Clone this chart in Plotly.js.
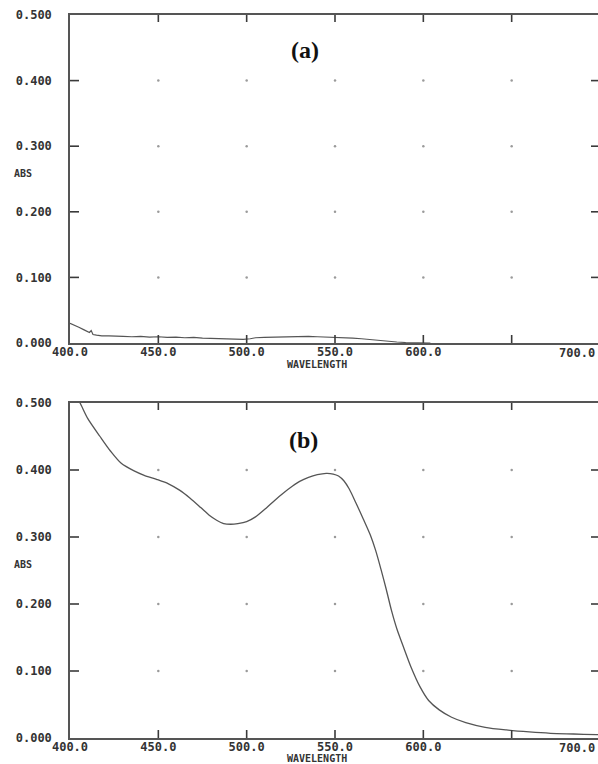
<!DOCTYPE html>
<html>
<head>
<meta charset="utf-8">
<script src="https://cdn.plot.ly/plotly-3.0.1.min.js"></script>
<style>
html, body { margin: 0; padding: 0; overflow: hidden; background: #fff; }
#chart { width: 604px; height: 764px; }
</style>
</head>
<body>
<div id="chart"></div>
<script>
// Panel (a) spectrum
const wlA = [400, 401, 403, 405, 408, 410, 411, 412, 413, 415, 418, 422, 426, 430, 435, 440, 445, 450, 455, 460, 465, 470, 475, 480, 485, 490, 495, 498, 502, 505, 510, 515, 520, 525, 530, 535, 540, 545, 550, 555, 560, 565, 570, 575, 580, 585, 590, 595, 600, 604];
const absA = [0.030, 0.029, 0.027, 0.024, 0.020, 0.018, 0.016, 0.019, 0.013, 0.012, 0.011, 0.011, 0.010, 0.010, 0.0095, 0.0100, 0.0090, 0.0095, 0.0085, 0.0090, 0.0080, 0.0085, 0.0075, 0.0070, 0.0075, 0.0065, 0.0060, 0.0055, 0.0065, 0.0080, 0.0085, 0.0090, 0.0095, 0.0100, 0.0095, 0.0100, 0.0095, 0.0090, 0.0095, 0.0080, 0.0075, 0.0065, 0.0050, 0.0035, 0.0025, 0.0015, 0.0008, 0.0003, 0.0001, 0.0];

// Panel (b) spectrum
const wlB = [403, 405.7, 410, 417, 423, 429, 436, 442, 449, 456, 462, 468, 474, 479, 483, 487, 491, 495, 500, 505, 511, 516, 521, 526, 530, 535, 540, 545, 549, 552, 555, 558, 562, 566, 570, 573, 576, 579, 582, 585, 589, 593, 598, 603, 609, 616, 624, 635, 647, 660, 672, 685, 698, 700];
const absB = [0.512, 0.500, 0.477, 0.450, 0.428, 0.410, 0.399, 0.392, 0.386, 0.379, 0.370, 0.358, 0.344, 0.332, 0.325, 0.320, 0.319, 0.320, 0.323, 0.330, 0.343, 0.355, 0.366, 0.376, 0.383, 0.389, 0.393, 0.395, 0.394, 0.391, 0.384, 0.372, 0.350, 0.327, 0.303, 0.280, 0.252, 0.222, 0.190, 0.163, 0.134, 0.106, 0.077, 0.056, 0.042, 0.031, 0.023, 0.016, 0.012, 0.009, 0.007, 0.006, 0.005, 0.005];

// Axis ticks
const xTickVals = [400, 450, 500, 550, 600, 650, 700];
const xTickText = ['400.0', '450.0', '500.0', '550.0', '600.0', '', ''];
const xLastLabel = '700.0';
const yTickVals = [0, 0.1, 0.2, 0.3, 0.4, 0.5];
const yTickText = ['0.000', '0.100', '0.200', '0.300', '0.400', '0.500'];
const panelLabels = ['(a)', '(b)'];
const yTitle = 'ABS';
const xTitle = 'WAVELENGTH';

// grid dots derived from interior ticks
const gx = [], gy = [];
xTickVals.slice(1, -1).forEach(function (x) {
  yTickVals.slice(1, -1).forEach(function (y) { gx.push(x); gy.push(y); });
});

const lineColor = '#555555';
const tickColor = '#3a3a3a';
const tickFont = { family: 'DejaVu Sans Mono', size: 12, color: '#333333', weight: 'bold' };

function xAxis(anchor) {
  return {
    anchor: anchor, range: [400, 700], tickmode: 'array', tickvals: xTickVals, ticktext: xTickText,
    ticks: '', showline: true, linecolor: lineColor, linewidth: 1.5, mirror: true,
    showgrid: false, zeroline: false, tickfont: tickFont, ticklabelstandoff: -3,
    fixedrange: true
  };
}
function yAxis(anchor, domain) {
  return {
    anchor: anchor, domain: domain, range: [0, 0.5], tickmode: 'array', tickvals: yTickVals, ticktext: yTickText,
    ticks: '', showline: true, linecolor: lineColor, linewidth: 1.5, mirror: true,
    showgrid: false, zeroline: false, tickfont: tickFont, ticklabelstandoff: 14, fixedrange: true
  };
}

// tick marks drawn as pixel-sized shapes on all four sides
const shapes = [];
[['x', 'y'], ['x2', 'y2']].forEach(function (ax) {
  xTickVals.slice(1, -1).forEach(function (v) {
    shapes.push({ type: 'line', xref: ax[0], yref: ax[1], x0: v, x1: v, ysizemode: 'pixel', yanchor: 0, y0: 0, y1: 8, line: { color: tickColor, width: 1.6 }, layer: 'above' });
    shapes.push({ type: 'line', xref: ax[0], yref: ax[1], x0: v, x1: v, ysizemode: 'pixel', yanchor: 0.5, y0: 0, y1: -7, line: { color: tickColor, width: 1.6 }, layer: 'above' });
  });
  yTickVals.slice(1, -1).forEach(function (v) {
    shapes.push({ type: 'line', xref: ax[0], yref: ax[1], y0: v, y1: v, xsizemode: 'pixel', xanchor: 400, x0: 0, x1: 9, line: { color: tickColor, width: 1.6 }, layer: 'above' });
    shapes.push({ type: 'line', xref: ax[0], yref: ax[1], y0: v, y1: v, xsizemode: 'pixel', xanchor: 700, x0: 0, x1: -9, line: { color: tickColor, width: 1.6 }, layer: 'above' });
  });
});

const traces = [
  { x: wlA, y: absA, xaxis: 'x', yaxis: 'y', mode: 'lines', line: { color: '#555555', width: 1.2 }, hoverinfo: 'skip' },
  { x: wlB, y: absB, xaxis: 'x2', yaxis: 'y2', mode: 'lines', line: { color: '#555555', width: 1.3, shape: 'spline', smoothing: 0.8 }, hoverinfo: 'skip' },
  { x: gx, y: gy, xaxis: 'x', yaxis: 'y', mode: 'markers', marker: { size: 2.5, color: '#9a9a9a' }, hoverinfo: 'skip' },
  { x: gx, y: gy, xaxis: 'x2', yaxis: 'y2', mode: 'markers', marker: { size: 2.5, color: '#9a9a9a' }, hoverinfo: 'skip' }
];

// pixel helpers: plot area spans x 70..600, y 15..738
function px(x) { return (x - 70) / 530; }
function py(y) { return (738 - y) / 723; }

const labelFont = { family: 'Liberation Serif', size: 24, color: '#111111', weight: 'bold' };
const smallFont = { family: 'DejaVu Sans Mono', size: 10, color: '#333333', weight: 'bold' };

const annotations = [
  { text: panelLabels[0], x: px(305), y: py(50), xref: 'paper', yref: 'paper', showarrow: false, font: labelFont, xanchor: 'center', yanchor: 'middle' },
  { text: panelLabels[1], x: px(303), y: py(440), xref: 'paper', yref: 'paper', showarrow: false, font: labelFont, xanchor: 'center', yanchor: 'middle' },
  { text: yTitle, x: px(12), y: py(173), xref: 'paper', yref: 'paper', showarrow: false, font: smallFont, xanchor: 'left', yanchor: 'middle' },
  { text: yTitle, x: px(12), y: py(564), xref: 'paper', yref: 'paper', showarrow: false, font: smallFont, xanchor: 'left', yanchor: 'middle' },
  { text: xTitle, x: px(317), y: py(365), xref: 'paper', yref: 'paper', showarrow: false, font: smallFont, xanchor: 'center', yanchor: 'middle' },
  { text: xTitle, x: px(317), y: py(759), xref: 'paper', yref: 'paper', showarrow: false, font: smallFont, xanchor: 'center', yanchor: 'middle' },
  { text: xLastLabel, x: px(597), y: py(353), xref: 'paper', yref: 'paper', showarrow: false, font: tickFont, xanchor: 'right', yanchor: 'middle' },
  { text: xLastLabel, x: px(597), y: py(748), xref: 'paper', yref: 'paper', showarrow: false, font: tickFont, xanchor: 'right', yanchor: 'middle' }
];

const layout = {
  width: 604, height: 764,
  margin: { l: 70, r: 4, t: 15, b: 26 },
  paper_bgcolor: '#ffffff', plot_bgcolor: '#ffffff',
  showlegend: false,
  xaxis: xAxis('y'),
  yaxis: yAxis('x', [py(343), 1]),
  xaxis2: xAxis('y2'),
  yaxis2: yAxis('x2', [0, py(403)]),
  shapes: shapes,
  annotations: annotations
};

Plotly.newPlot('chart', traces, layout, { displayModeBar: false });
</script>
</body>
</html>
